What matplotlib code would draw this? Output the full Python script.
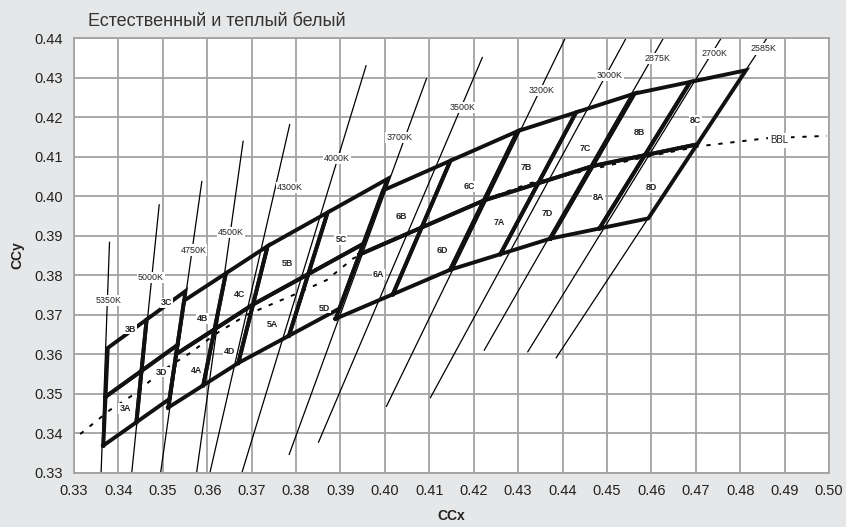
import numpy as np
import matplotlib
matplotlib.use("Agg")
from matplotlib import pyplot as plt
from matplotlib import font_manager as fm

# ANSI quadrangles: upper-right, upper-left, lower-left, lower-right corners
bin_names = ["3", "4", "5", "6", "7", "8"]
quad_x = [
    [0.3551, 0.3376, 0.3366, 0.3515],   # 5000K
    [0.3736, 0.3548, 0.3512, 0.3670],   # 4500K
    [0.4006, 0.3736, 0.3670, 0.3898],   # 4000K
    [0.4299, 0.3996, 0.3889, 0.4147],   # 3500K
    [0.4562, 0.4299, 0.4147, 0.4373],   # 3000K
    [0.4813, 0.4562, 0.4373, 0.4593],   # 2700K
]
quad_y = [
    [0.3760, 0.3616, 0.3369, 0.3487],
    [0.3874, 0.3736, 0.3465, 0.3578],
    [0.4044, 0.3874, 0.3578, 0.3716],
    [0.4165, 0.4015, 0.3690, 0.3814],
    [0.4260, 0.4165, 0.3814, 0.3893],
    [0.4319, 0.4260, 0.3893, 0.3944],
]

# sub-bin label spots (x, y) per bin: A, B, C, D
sub_lab_x = [
    [0.3415, 0.3426, 0.3509, 0.3498],
    [0.3576, 0.3590, 0.3672, 0.3650],
    [0.3747, 0.3780, 0.3901, 0.3863],
    [0.3986, 0.4036, 0.4190, 0.4129],
    [0.4257, 0.4319, 0.4451, 0.4365],
    [0.4481, 0.4573, 0.4700, 0.4600],
]
sub_lab_y = [
    [0.3462, 0.3664, 0.3730, 0.3555],
    [0.3560, 0.3691, 0.3752, 0.3608],
    [0.3676, 0.3830, 0.3891, 0.3717],
    [0.3802, 0.3950, 0.4024, 0.3862],
    [0.3933, 0.4074, 0.4122, 0.3957],
    [0.3997, 0.4162, 0.4191, 0.4023],
]

# isotherm lines: bottom point, top point, label position
cct_names = ["5350K", "5000K", "4750K", "4500K", "4300K", "4000K", "3700K",
             "3500K", "3200K", "3000K", "2875K", "2700K", "2585K"]
cct_x0 = [0.3361, 0.3430, 0.3495, 0.3576, 0.3606, 0.3678, 0.3784,
          0.3850, 0.4003, 0.4102, 0.4223, 0.4321, 0.4385]
cct_y0 = [0.3300, 0.3300, 0.3300, 0.3300, 0.3300, 0.3300, 0.3345,
          0.3376, 0.3467, 0.3489, 0.3609, 0.3605, 0.3590]
cct_x1 = [0.3380, 0.3492, 0.3588, 0.3681, 0.3786, 0.3958, 0.4094,
          0.4220, 0.4406, 0.4543, 0.4627, 0.4757, 0.4860]
cct_y1 = [0.3885, 0.3980, 0.4039, 0.4141, 0.4183, 0.4332, 0.4299,
          0.4353, 0.4400, 0.4400, 0.4400, 0.4400, 0.4400]
cct_lab_x = [0.3377, 0.3473, 0.3569, 0.3653, 0.3786, 0.3892, 0.4032,
             0.4175, 0.4353, 0.4506, 0.4614, 0.4741, 0.4853]
cct_lab_y = [0.3736, 0.3795, 0.3864, 0.3908, 0.4022, 0.4096, 0.4148,
             0.4224, 0.4268, 0.4305, 0.4348, 0.4362, 0.4373]

# black body line
bbl_x = [0.3314, 0.3381, 0.3441, 0.3494, 0.3561, 0.3621, 0.3689, 0.3802,
         0.3869, 0.3929, 0.4100, 0.4252, 0.4327, 0.4410, 0.4580, 0.4710,
         0.4860, 0.4995]
bbl_y = [0.3398, 0.3459, 0.3503, 0.3555, 0.3603, 0.3653, 0.3700, 0.3754,
         0.3788, 0.3843, 0.3930, 0.4003, 0.4033, 0.4054, 0.4098, 0.4127,
         0.4147, 0.4153]

xticks = [0.33, 0.34, 0.35, 0.36, 0.37, 0.38, 0.39, 0.40, 0.41,
          0.42, 0.43, 0.44, 0.45, 0.46, 0.47, 0.48, 0.49, 0.50]
yticks = [0.33, 0.34, 0.35, 0.36, 0.37, 0.38, 0.39, 0.40, 0.41, 0.42, 0.43, 0.44]


def has_font(name):
    try:
        fm.findfont(fm.FontProperties(family=name), fallback_to_default=False)
        return True
    except Exception:
        return False


narrow = "Liberation Sans Narrow" if has_font("Liberation Sans Narrow") else "Liberation Sans"
plt.rcParams["font.family"] = ["Liberation Sans", "DejaVu Sans"]

bg = "#e6e7e8"
gridc = "#a3a3a3"

fig = plt.figure(figsize=(8.46, 5.27), dpi=100, facecolor=bg)
ax = fig.add_axes([74 / 846, 1 - 472.8 / 527, 755 / 846, 434.5 / 527])
ax.set_facecolor("white")
ax.set_xlim(0.33, 0.50)
ax.set_ylim(0.33, 0.44)
ax.set_xticks(xticks)
ax.set_yticks(yticks)
ax.set_xticklabels(["%.2f" % v for v in xticks], family=narrow, fontsize=10.5, color="#222222")
ax.set_yticklabels(["%.2f" % v for v in yticks], family=narrow, fontsize=10.5, color="#222222")
ax.tick_params(length=0, pad=8)
ax.grid(True, color=gridc, lw=1.3, zorder=0)
ax.set_axisbelow(True)
for s in ax.spines.values():
    s.set_color(gridc)
    s.set_linewidth(1.3)

# isotherms
for i in range(len(cct_names)):
    ax.plot([cct_x0[i], cct_x1[i]], [cct_y0[i], cct_y1[i]], color="black", lw=0.9,
            zorder=2, solid_capstyle="butt")
    ax.text(cct_lab_x[i], cct_lab_y[i], cct_names[i], fontsize=6.4, ha="center", va="center",
            color="#222222", zorder=6,
            bbox=dict(boxstyle="square,pad=0.12", fc="white", ec="none"))

# BBL
ax.plot(bbl_x, bbl_y, color="black", lw=1.4, ls=(0, (2.2, 4)), zorder=2.5)
ax.text(0.4889, 0.4142, "BBL", fontsize=7, ha="center", va="center", zorder=6,
        color="#222222", bbox=dict(boxstyle="square,pad=0.25", fc="white", ec="none"))

# quadrangles split into A/B/C/D sub-bins
for k in range(len(bin_names)):
    tr = np.array([quad_x[k][0], quad_y[k][0]])
    tl = np.array([quad_x[k][1], quad_y[k][1]])
    bl = np.array([quad_x[k][2], quad_y[k][2]])
    br = np.array([quad_x[k][3], quad_y[k][3]])
    ml = (tl + bl) / 2
    mr = (tr + br) / 2
    mt = (tl + tr) / 2
    mb = (bl + br) / 2
    c = (ml + mr + mt + mb) / 4
    subs = [[bl, ml, c, mb], [ml, tl, mt, c], [c, mt, tr, mr], [mb, c, mr, br]]
    for j, poly in enumerate(subs):
        p = np.array(poly + [poly[0]])
        ax.plot(p[:, 0], p[:, 1], color="#111111", lw=2.8, zorder=3,
                solid_joinstyle="miter")
        ax.text(sub_lab_x[k][j], sub_lab_y[k][j], bin_names[k] + "ABCD"[j],
                fontsize=6.4, fontweight="bold", ha="center", va="center",
                color="#222222", zorder=6,
                bbox=dict(boxstyle="square,pad=0.1", fc="white", ec="none"))

ax.set_xlabel("CCx", fontsize=10, fontweight="bold", labelpad=8, color="#222222")
ax.set_ylabel("CCy", fontsize=10, fontweight="bold", labelpad=7, color="#222222")

fig.text(88 / 846, 1 - 21 / 527, "Естественный и теплый белый", family=narrow,
         fontsize=13, color="#333333", ha="left", va="center")

fig.savefig("out.png", dpi=100, facecolor=bg)
